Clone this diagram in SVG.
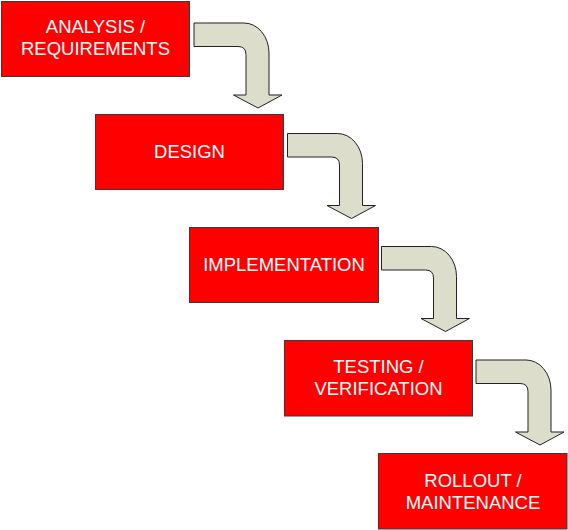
<svg xmlns="http://www.w3.org/2000/svg" width="568" height="530" viewBox="0 0 568 530">
<defs>
<style>
.box{fill:#FF0000;stroke:#3a3a3a;stroke-width:1}
.lbl{fill:#FFFFFF;font-family:"Liberation Sans",Arial,sans-serif;font-size:18.5px;text-anchor:middle}
.arr{fill:#DCDECB;stroke:#222222;stroke-width:1;stroke-linejoin:miter}
</style>
<path id="bend" d="M0,0 H50 A25,30 0 0 1 75,30 V72 H88 L64,85 L39.5,72 H52 V31.5 Q52,23.5 44,23.5 H0 Z"/>
</defs>
<rect width="568" height="530" fill="#FFFFFF"/>
<g id="connectors">
<use href="#bend" class="arr" transform="translate(194,23)"/>
<use href="#bend" class="arr" transform="translate(287.5,133.5)"/>
<use href="#bend" class="arr" transform="translate(381.5,246.5)"/>
<use href="#bend" class="arr" transform="translate(476,360)"/>
</g>
<g id="analysis">
<rect class="box" x="1.5" y="1.5" width="188" height="75"/>
<text class="lbl" x="95.5" y="32.5">ANALYSIS /</text>
<text class="lbl" x="95.5" y="54.5">REQUIREMENTS</text>
</g>
<g id="design">
<rect class="box" x="95.5" y="114.5" width="188" height="75"/>
<text class="lbl" x="189.5" y="157.5">DESIGN</text>
</g>
<g id="implementation">
<rect class="box" x="189.5" y="227.5" width="189" height="75"/>
<text class="lbl" x="284" y="270.5">IMPLEMENTATION</text>
</g>
<g id="testing">
<rect class="box" x="284.5" y="340.5" width="188" height="75.5"/>
<text class="lbl" x="378.5" y="372.5">TESTING /</text>
<text class="lbl" x="378.5" y="394.5">VERIFICATION</text>
</g>
<g id="rollout">
<rect class="box" x="378.5" y="453.5" width="188.5" height="75.5"/>
<text class="lbl" x="473" y="486.5">ROLLOUT /</text>
<text class="lbl" x="473" y="508.5">MAINTENANCE</text>
</g>
</svg>
